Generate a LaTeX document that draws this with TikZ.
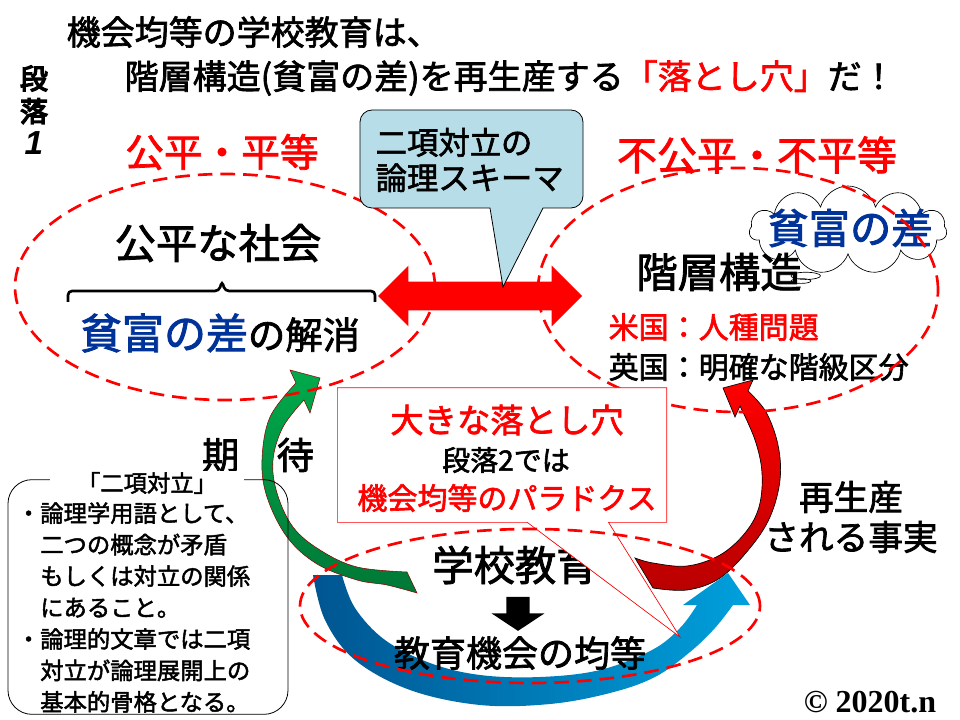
\documentclass[tikz,border=0pt]{standalone}
\usepackage{fontspec}
\setmainfont{Noto Sans CJK JP}[FakeBold=2]
\newfontfamily\heavyjp{Noto Sans CJK JP}[FakeBold=5]
\newfontfamily\copyserif{Liberation Serif}
\newfontfamily\numsans{Liberation Sans}
\usepackage{tikz}
\usetikzlibrary{shapes}
\usetikzlibrary{shapes.callouts}
\definecolor{richblue}{RGB}{0,51,153}
\definecolor{bubbleblue}{RGB}{183,222,232}
\definecolor{arrowgreen}{RGB}{0,170,75}
\definecolor{darkgreen}{RGB}{0,120,55}
\definecolor{darkred}{RGB}{185,0,0}
\definecolor{deepblue}{RGB}{0,85,145}
\definecolor{skyblue}{RGB}{0,160,220}
\begin{document}
\begin{tikzpicture}[x=0.75pt,y=-0.75pt,
zone/.style={ellipse, draw=red, line width=2pt, dash pattern=on 11pt off 6pt, inner sep=0pt},
headline/.style={anchor=west, font=\fontsize{25.5}{30}\selectfont},
redhead/.style={text=red, font=\fontsize{29}{34}\selectfont},
bigtext/.style={font=\fontsize{31}{36}\selectfont},
listtext/.style={anchor=west, font=\fontsize{22.5}{27}\selectfont}]
\useasboundingbox (0,0) rectangle (960,720);

\node[headline] (headone) at (62,32) {機会均等の学校教育は、};
\node[headline] (headtwo) at (120,78) {階層構造(貧富の差)を再生産する{\color{red}「落とし穴」}だ！};
\node[font=\heavyjp\fontsize{21}{24.5}\selectfont, align=center] (paraone) at (34,110) {段\\落\\{\numsans\bfseries\itshape\fontsize{25}{24.5}\selectfont 1}};

\node[redhead] (fairhead) at (222,152) {公平・平等};
\node[redhead, font=\fontsize{30}{34}\selectfont] (unfairhead) at (757,155) {不公平・不平等};

\shade[left color=deepblue, right color=skyblue] plot[smooth, tension=0.6] coordinates {(313,575) (325,620) (355,660) (410,690) (480,705) (550,704) (610,693) (655,677) (690,652) (715,628) (733,605)} -- (750,605) -- (728,573) -- (683,605) -- (697,605) -- plot[smooth, tension=0.6] coordinates {(697,605) (680,628) (652,650) (600,670) (540,677) (480,675) (430,663) (385,640) (355,608) (342,575)} -- cycle;
\shadedraw[top color=red, bottom color=darkred, draw=black, line width=0.5pt] plot[smooth, tension=0.6] coordinates {(653,588) (687,590) (720,578) (750,548) (770,517) (780,480) (778,445) (766,412) (748,391)} -- (753,380) -- (723,388) -- (735,417) -- (740,406) -- plot[smooth, tension=0.6] coordinates {(740,406) (755,440) (762,473) (759,507) (745,533) (720,555) (687,566) (653,563) (635,558)} -- cycle;
\shadedraw[top color=arrowgreen, bottom color=darkgreen, draw=red!55!black, line width=0.4pt] plot[smooth, tension=0.6] coordinates {(417,593) (387,585) (357,580) (317,564) (287,537) (267,497) (262,460) (270,417) (296,383)} -- (290,370) -- (320,378) -- (310,413) -- (304,400) -- plot[smooth, tension=0.6] coordinates {(304,400) (283,427) (273,460) (277,493) (293,527) (320,550) (357,567) (407,572)} -- cycle;

\node[bigtext] (fairsociety) at (218,243) {公平な社会};
\draw[line width=2pt, rounded corners=3pt] (68,302) -- (68,291) -- (219,291) -- (222,281) -- (225,291) -- (375,291) -- (375,302);
\node (gapclose) at (220,333) {{\color{richblue}\fontsize{31.5}{36}\selectfont 貧富の差}{\fontsize{28}{32}\selectfont の解消}};

\node[cloud callout, draw, fill=white, line width=0.5pt, cloud puffs=11, aspect=2.4, minimum width=148pt, minimum height=66pt, callout absolute pointer={(801,281)}] (gapcloud) at (848,230) {};
\node[bigtext, text=richblue] (gaptext) at (850,228) {貧富の差};
\node[bigtext] (hierarchy) at (719,272) {階層構造};
\node[listtext, text=red] (usa) at (604,327) {米国：人種問題};
\node[listtext] (uk) at (604,367) {英国：明確な階級区分};

\node[zone, minimum width=315pt, minimum height=169.5pt] (fairzone) at (225,287) {};
\node[zone, minimum width=300pt, minimum height=183pt] (unfairzone) at (738,290) {};

\node[double arrow, fill=red, inner xsep=0pt, inner ysep=10.5pt, double arrow head extend=12pt, minimum height=153pt] (opposition) at (480,296) {};
\draw[fill=bubbleblue, line width=0.6pt] (503,287) -- (543,208) [rounded corners=9pt] -- (583,208) -- (583,110) -- (360,110) -- (360,208) [sharp corners] -- (490,208) -- cycle;
\node[anchor=west, align=left, font=\fontsize{23.5}{26.5}\selectfont] (schema) at (371,160) {二項対立の\\論理スキーマ};

\node[bigtext] (schooledu) at (515,565) {学校教育};
\node[single arrow, fill=black, shape border rotate=270, inner xsep=8.6pt, inner ysep=0pt, single arrow head extend=11pt, single arrow tip angle=113, minimum height=25.5pt] (downarrow) at (518,610) {};
\node[font=\fontsize{27}{31}\selectfont] (equalchance) at (520,653) {教育機会の均等};

\node[rectangle callout, draw=red, fill=white, line width=0.5pt, inner sep=0pt, minimum width=247pt, minimum height=101pt, callout absolute pointer={(680,637)}, callout pointer width=61pt] (pitfall) at (502,455) {};
\node[text=red, font=\fontsize{25}{29}\selectfont] (pitfalltitle) at (507,420) {大きな落とし穴};
\node[font=\fontsize{21}{25}\selectfont] (paratwo) at (506,460) {段落2では};
\node[text=red, font=\fontsize{22.5}{27}\selectfont] (paradox) at (507,498) {機会均等のパラドクス};

\node[zone, minimum width=345pt, minimum height=115.5pt] (schoolzone) at (530,606) {};

\node[font=\fontsize{28}{32}\selectfont] (expect) at (258,455) {期　待};
\node[align=center, font=\fontsize{26}{30}\selectfont] (reproduce) at (851,517) {再生産\\される事実};

\node[draw, rounded corners=18pt, line width=0.6pt, minimum width=210pt, minimum height=176pt] (notebox) at (148,597) {};
\node[fill=white, inner xsep=20pt, inner ysep=1pt, font=\fontsize{17.5}{21}\selectfont] (notetitle) at (147,483) {「二項対立」};
\node[anchor=north west, align=left, inner sep=0pt, font=\fontsize{17.5}{23.6}\selectfont] (notetext) at (40,502) {\llap{・}論理学用語として、\\二つの概念が矛盾\\もしくは対立の関係\\にあること。\\\llap{・}論理的文章では二項\\対立が論理展開上の\\基本的骨格となる。};

\node[font=\copyserif\bfseries\fontsize{24}{28}\selectfont] (credit) at (870,702) {© 2020t.n};
\end{tikzpicture}
\end{document}
